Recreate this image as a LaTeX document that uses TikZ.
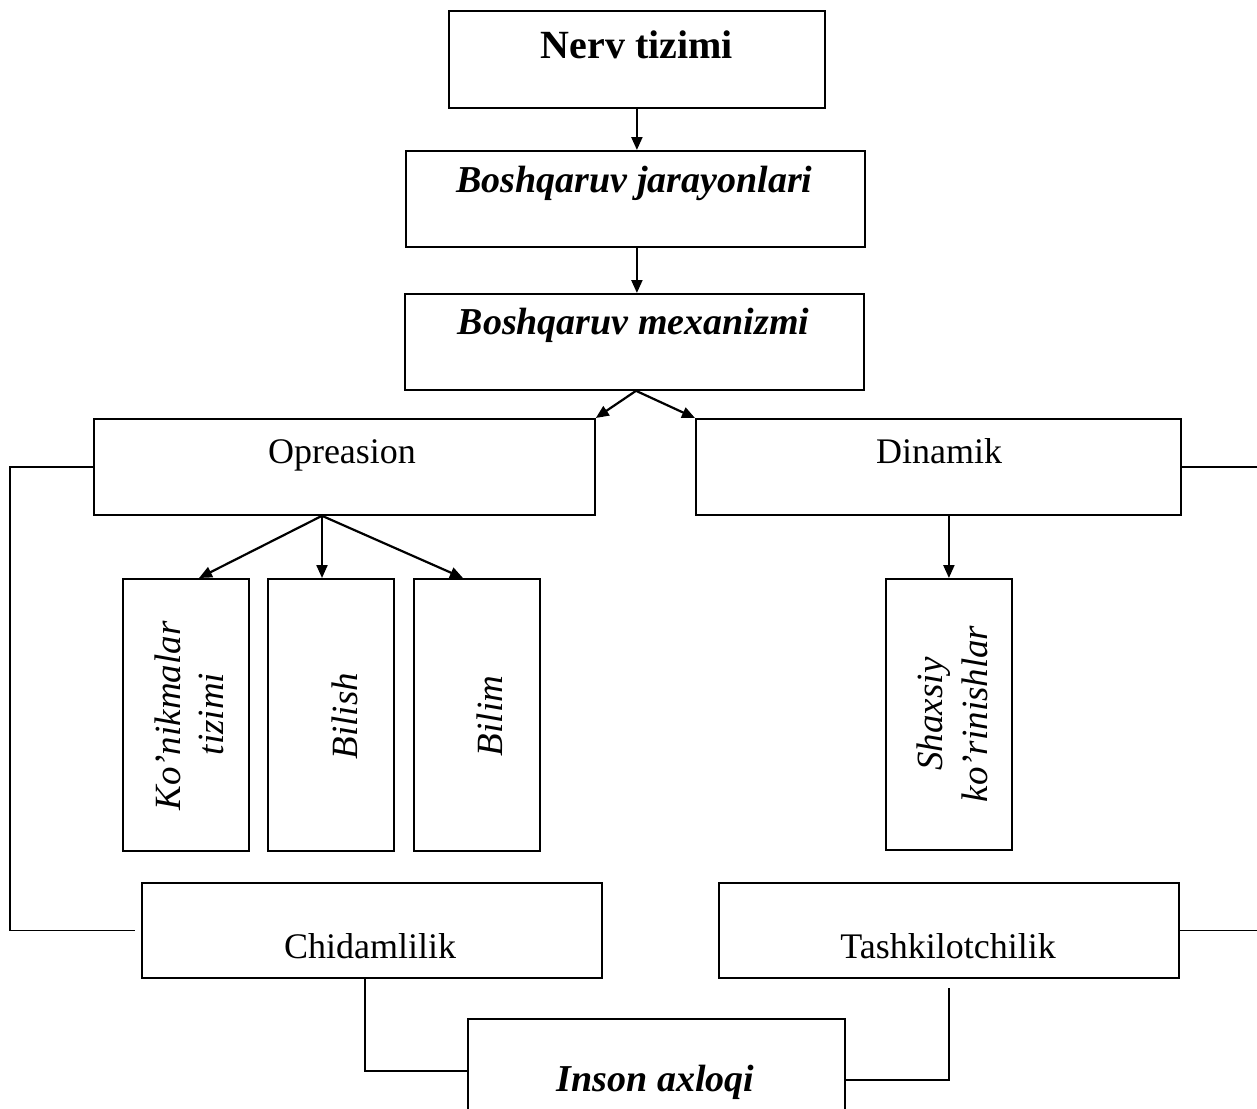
\documentclass[tikz,border=0pt]{standalone}
\usepackage{fontspec}
\setmainfont{Liberation Serif}
\usetikzlibrary{arrows.meta,calc}
\begin{document}
\begin{tikzpicture}[x=1pt,y=-1pt,
  box/.style={draw, line width=1.8pt, inner sep=0pt, anchor=north west},
  conn/.style={line width=1.3pt},
  arr/.style={line width=2.2pt, -{Triangle[length=13pt,width=11pt]}},
  txt/.style={anchor=base, inner sep=0pt, font=\fontsize{36}{43}\selectfont},
  btxt/.style={anchor=base, inner sep=0pt, font=\fontsize{38}{45}\selectfont\bfseries\itshape},
  vtxt/.style={anchor=base, inner sep=0pt, rotate=90, font=\fontsize{37}{44}\selectfont\itshape}]
\useasboundingbox (0,0) rectangle (1257,1108);
% boxes
\node[box, minimum width=376pt, minimum height=97pt] (nerv) at (448,10) {};
\node[box, minimum width=459pt, minimum height=96pt] (jar) at (405,150) {};
\node[box, minimum width=459pt, minimum height=96pt] (mex) at (404,293) {};
\node[box, minimum width=501pt, minimum height=96pt] (op) at (93,418) {};
\node[box, minimum width=485pt, minimum height=96pt] (din) at (695,418) {};
\node[box, minimum width=126pt, minimum height=272pt] (b1) at (122,578) {};
\node[box, minimum width=126pt, minimum height=272pt] (b2) at (267,578) {};
\node[box, minimum width=126pt, minimum height=272pt] (b3) at (413,578) {};
\node[box, minimum width=126pt, minimum height=271pt] (sh) at (885,578) {};
\node[box, minimum width=460pt, minimum height=95pt] (chid) at (141,882) {};
\node[box, minimum width=460pt, minimum height=95pt] (tash) at (718,882) {};
\node[box, minimum width=377pt, minimum height=96pt] (ins) at (467,1018) {};
% texts
\node[anchor=base, inner sep=0pt, font=\fontsize{40}{48}\selectfont\bfseries] (tnerv) at (637,59) {Nerv tizimi};
\node[btxt] (tjar) at (634.5,192) {Boshqaruv jarayonlari};
\node[btxt] (tmex) at (633.5,334) {Boshqaruv mexanizmi};
\node[txt] (top) at (342,463) {Opreasion};
\node[txt] (tdin) at (939,463) {Dinamik};
\node[txt] (tchid) at (370,958) {Chidamlilik};
\node[txt] (ttash) at (948,958) {Tashkilotchilik};
\node[btxt] (tins) at (655.5,1091) {Inson axloqi};
\node[vtxt] (tk1) at (180,716) {Ko’nikmalar};
\node[vtxt] (tk2) at (223,714) {tizimi};
\node[vtxt] (tbilish) at (357,716) {Bilish};
\node[vtxt] (tbilim) at (502,716) {Bilim};
\node[vtxt] (ts1) at (942,714) {Shaxsiy};
\node[vtxt] (ts2) at (987,714) {ko’rinishlar};
% arrows
\draw[arr] (nerv.south) -- (nerv.south |- jar.north);
\draw[arr] (jar.south -| nerv.south) -- (mex.north -| nerv.south);
\coordinate (mexb) at ($(mex.south west)+(232,0)$);
\draw[arr] (mexb) -- (op.north east);
\draw[arr] (mexb) -- (din.north west);
\coordinate (opb) at ($(op.south west)+(229,0)$);
\draw[arr] (opb) -- ($(b1.north west)+(77,0)$);
\draw[arr] (opb) -- (opb |- b2.north);
\draw[arr] (opb) -- ($(b3.north west)+(50,0)$);
\draw[arr] (sh.north |- din.south) -- (sh.north);
% connectors
\draw[conn] (op.west) -- ++(-83,0) |- ($(chid.west)+(-6,0)$);
\draw[conn] (din.east) -- ++(90,0) |- (tash.east);
\draw[conn] ($(chid.south west)+(224,0)$) |- ($(ins.north west)+(0,53)$);
\draw[conn] ($(ins.north east)+(0,62)$) -| ($(tash.south)+(0,9)$);
\end{tikzpicture}
\end{document}
